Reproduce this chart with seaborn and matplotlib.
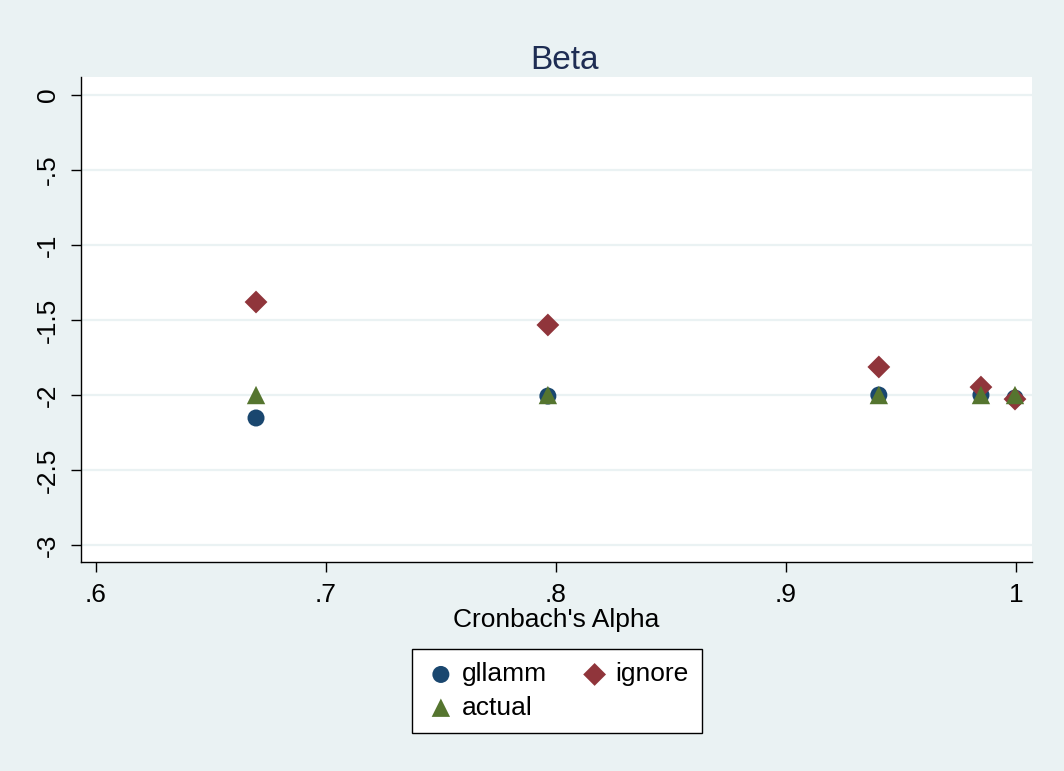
import numpy as np
import pandas as pd
import seaborn as sns
import matplotlib.pyplot as plt

# Cronbach's alpha values and beta estimates
alpha = [0.6696, 0.7965, 0.9404, 0.9848, 0.9996]
gllamm = [-2.153, -2.007, -2.0, -2.0, -2.02]
ignore = [-1.38, -1.533, -1.813, -1.947, -2.027]
actual = [-2.0, -2.0, -2.0, -2.0, -2.0]

yticks = [0, -0.5, -1, -1.5, -2, -2.5, -3]
ytick_labels = ['0', '-.5', '-1', '-1.5', '-2', '-2.5', '-3']
xticks = [0.6, 0.7, 0.8, 0.9, 1.0]
xtick_labels = ['.6', '.7', '.8', '.9', '1']

sns.set_style('white')
plt.rcParams['font.family'] = ['Liberation Sans', 'DejaVu Sans']
plt.rcParams['text.color'] = 'black'
plt.rcParams['xtick.color'] = 'black'
plt.rcParams['ytick.color'] = 'black'
plt.rcParams['axes.labelcolor'] = 'black'

bg = '#EAF2F3'
fig = plt.figure(figsize=(10.64, 7.71), dpi=100, facecolor=bg)
ax = fig.add_axes([81 / 1064, 1 - 562 / 771, (1032 - 81) / 1064, (562 - 77) / 771])
ax.set_facecolor('white')

df = pd.DataFrame({'alpha': alpha, 'gllamm': gllamm, 'ignore': ignore, 'actual': actual})

sns.scatterplot(data=df, x='alpha', y='gllamm', ax=ax, marker='o', s=150,
                color='#1A476F', edgecolor='none', label='gllamm', zorder=3)
sns.scatterplot(data=df, x='alpha', y='ignore', ax=ax, marker='D', s=135,
                color='#90353B', edgecolor='none', label='ignore', zorder=4)
sns.scatterplot(data=df, x='alpha', y='actual', ax=ax, marker='^', s=175,
                color='#55752F', edgecolor='none', label='actual', zorder=5)

ax.set_xlim(0.5935, 1.007)
ax.set_ylim(-3.113, 0.12)
ax.set_yticks(yticks)
ax.set_yticklabels(ytick_labels, rotation=90, va='center', fontsize=19)
ax.set_xticks(xticks)
ax.set_xticklabels(xtick_labels, fontsize=19)
ax.tick_params(axis='both', direction='out', length=7, width=1, color='black',
               pad=8, bottom=True, left=True)
ax.yaxis.grid(True, color=bg, linewidth=1.6, zorder=0)
ax.set_axisbelow(True)

for side in ['top', 'right']:
    ax.spines[side].set_visible(False)
for side in ['left', 'bottom']:
    ax.spines[side].set_color('black')
    ax.spines[side].set_linewidth(1)

ax.set_xlabel("Cronbach's Alpha", fontsize=19, labelpad=1)
ax.set_ylabel('')
ax.set_title('Beta', fontsize=24, color='#1E2D53', pad=6, x=0.508)

handles, labels = ax.get_legend_handles_labels()
order = [0, 2, 1]  # gllamm, actual | ignore
ax.legend([handles[i] for i in order], [labels[i] for i in order], ncol=2,
          loc='center', bbox_to_anchor=(557 / 1064, 1 - 691 / 771),
          bbox_transform=fig.transFigure, fontsize=19, frameon=True,
          fancybox=False, edgecolor='black', framealpha=1,
          handletextpad=0.2, columnspacing=1.2, borderpad=0.5,
          labelspacing=0.35, borderaxespad=0, handlelength=1.2)
ax.get_legend().get_frame().set_linewidth(1)

fig.savefig('out.png', dpi=100, facecolor=bg)
